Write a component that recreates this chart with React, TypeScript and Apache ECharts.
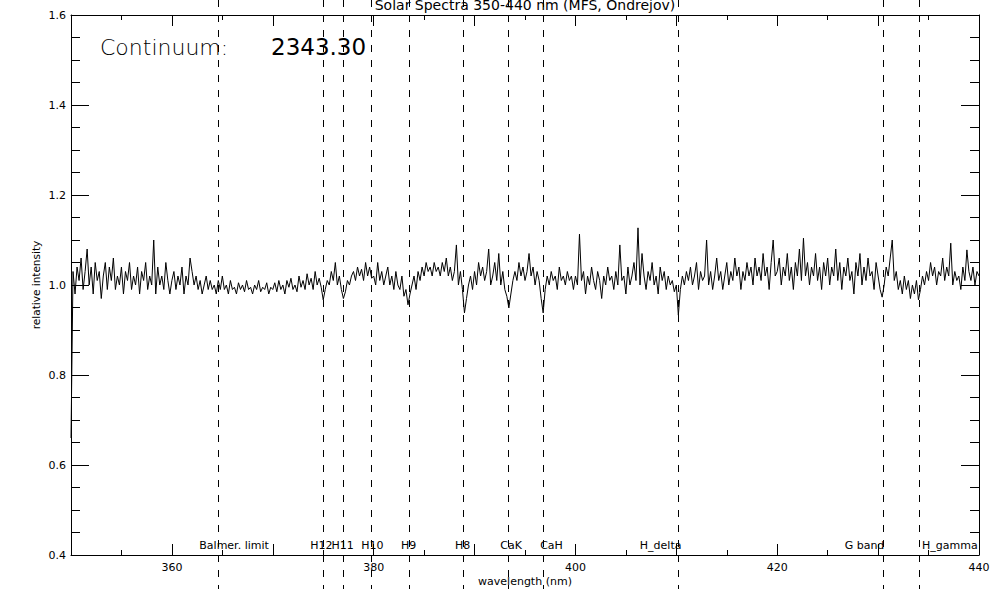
import React, { useEffect, useRef } from "react";
import * as echarts from "echarts";

// wavelength grid: 350.0 .. 440.0 nm, step 0.2 nm
const WL_START = 350;
const WL_STEP = 0.2;

// relative intensity, 10 nm per row-block
const spec350 = [
  0.66, 1.03, 0.98, 1.04, 1.01, 1.06, 0.99, 1.03, 1.08, 1.00,
  1.04, 0.98, 1.05, 1.01, 1.03, 0.97, 1.02, 1.05, 0.99, 1.04,
  1.01, 1.06, 0.99, 1.02, 1.00, 1.04, 0.98, 1.03, 1.01, 1.05,
  0.99, 1.02, 1.00, 1.04, 0.98, 1.03, 1.01, 1.05, 0.99, 1.02,
  1.00, 1.10, 0.98, 1.04, 1.00, 1.02, 0.99, 1.05, 1.01, 0.98,
];
const spec360 = [
  1.01, 1.03, 0.99, 1.02, 1.00, 1.04, 0.98, 1.02, 1.00, 1.06,
  1.03, 1.00, 1.02, 0.99, 1.01, 0.98, 1.00, 1.02, 0.99, 1.01,
  0.99, 1.00, 0.98, 1.01, 0.99, 1.02, 0.99, 1.00, 0.98, 1.01,
  0.99, 0.995, 0.98, 1.005, 0.99, 1.00, 0.985, 1.01, 0.99, 0.995,
  0.98, 1.00, 0.99, 1.01, 0.985, 0.995, 0.99, 1.005, 0.98, 0.995,
];
const spec370 = [
  0.99, 1.005, 0.985, 1.01, 0.99, 1.00, 0.98, 1.01, 0.995, 1.015,
  0.99, 1.00, 0.985, 1.02, 0.995, 1.01, 0.99, 1.025, 1.00, 1.015,
  0.99, 1.03, 1.00, 1.015, 0.995, 0.967, 0.99, 1.01, 1.00, 1.03,
  1.01, 1.05, 1.00, 1.02, 0.99, 0.97, 0.985, 1.01, 1.00, 1.02,
  1.03, 1.01, 1.04, 1.02, 1.035, 1.01, 1.05, 1.02, 1.04, 1.015,
];
const spec380 = [
  1.02, 1.00, 1.05, 1.01, 1.03, 1.00, 1.02, 1.04, 1.00, 1.02,
  0.99, 1.03, 1.00, 0.99, 1.02, 0.975, 0.99, 0.956, 0.98, 1.00,
  1.02, 0.99, 1.03, 1.01, 1.04, 1.02, 1.05, 1.03, 1.04, 1.02,
  1.05, 1.03, 1.04, 1.02, 1.05, 1.03, 1.06, 1.02, 1.04, 1.01,
  1.03, 1.089, 1.00, 1.03, 0.99, 0.938, 0.97, 1.00, 1.02, 0.99,
];
const spec390 = [
  1.03, 1.00, 1.05, 1.02, 1.04, 1.01, 1.03, 1.08, 1.00, 1.02,
  1.05, 1.01, 1.07, 1.00, 1.03, 0.99, 0.975, 0.949, 0.98, 1.01,
  1.03, 1.01, 1.05, 1.02, 1.04, 1.01, 1.03, 1.07, 1.02, 1.04,
  1.00, 1.03, 1.01, 0.97, 0.938, 0.99, 1.02, 1.00, 1.03, 1.01,
  1.02, 0.99, 1.04, 1.01, 1.02, 1.00, 1.03, 1.01, 1.02, 0.99,
];
const spec400 = [
  1.02, 1.00, 1.113, 1.01, 1.03, 0.98, 1.02, 1.00, 1.04, 1.01,
  0.99, 1.03, 1.01, 0.97, 1.02, 1.00, 1.04, 1.01, 1.02, 0.99,
  1.03, 1.00, 1.089, 1.01, 1.02, 0.98, 1.04, 1.00, 1.02, 1.05,
  1.01, 1.127, 1.00, 1.07, 1.02, 0.99, 1.03, 1.01, 1.05, 1.00,
  1.02, 0.98, 1.04, 1.01, 1.03, 0.99, 1.02, 1.00, 1.01, 0.985,
];
const spec410 = [
  1.00, 0.933, 0.99, 1.02, 1.00, 1.03, 1.01, 1.04, 1.00, 1.02,
  1.05, 0.99, 1.03, 1.01, 1.02, 1.10, 1.00, 1.03, 0.99, 1.02,
  1.06, 1.01, 1.03, 0.99, 1.02, 1.05, 1.00, 1.03, 1.01, 1.06,
  1.02, 1.04, 0.99, 1.03, 1.01, 1.05, 1.02, 1.04, 1.00, 1.06,
  1.02, 1.04, 1.01, 1.07, 1.02, 1.04, 0.99, 1.05, 1.10, 1.02,
];
const spec420 = [
  1.03, 1.06, 1.00, 1.04, 1.02, 1.07, 1.01, 1.04, 0.99, 1.05,
  1.02, 1.08, 1.01, 1.104, 1.02, 1.05, 1.00, 1.04, 1.02, 1.07,
  1.01, 1.04, 0.99, 1.05, 1.02, 1.06, 1.00, 1.04, 1.02, 1.08,
  1.01, 1.05, 0.99, 1.04, 1.02, 1.06, 1.01, 1.03, 0.98, 1.05,
  1.02, 1.07, 1.00, 1.04, 1.01, 1.06, 1.02, 1.03, 0.99, 1.05,
];
const spec430 = [
  1.02, 0.99, 0.973, 1.00, 1.04, 1.02, 1.06, 1.10, 1.01, 1.03,
  0.99, 1.01, 0.98, 1.02, 0.99, 1.01, 0.97, 1.00, 0.98, 1.01,
  0.967, 0.99, 1.02, 1.00, 1.03, 1.01, 1.05, 1.02, 1.04, 1.00,
  1.03, 1.02, 1.06, 1.01, 1.04, 1.02, 1.093, 1.00, 1.03, 1.01,
  1.02, 0.99, 1.04, 1.01, 1.078, 1.03, 1.01, 1.04, 1.00, 1.03, 1.02,
];

// spectral lines (nm) and their names
const lineWavelengths = [364.6, 375.0, 377.0, 379.75, 383.5, 388.85, 393.35, 396.8, 410.15, 430.45, 434.05];
const lineNames = ["Balmer. limit", "H12", "H11", "H10", "H9", "H8", "CaK", "CaH", "H_delta", "G band", "H_gamma"];

// x tick labels shown
const xTickLabels = [360, 380, 400, 420, 440];

const titleText = "Solar Spectra 350-440 nm (MFS, Ondrejov)";
const continuumLabel = "Continuum:";
const continuumValue = "2343.30";
const xTitle = "wavelength (nm)";
const yTitle = "relative intensity";

const FONT = "DejaVu Sans";
// horizontal offsets (px) of the line labels from their dashed line
const LABEL_DX = [-19, -13, -12, -10, -8, -8, -8, -3, -38, -38, 3];

export default function App() {
  const ref = useRef<HTMLDivElement>(null);

  useEffect(() => {
    if (!ref.current) return;
    const chart = echarts.init(ref.current, null, { renderer: "svg" });
    const values = [
      ...spec350, ...spec360, ...spec370, ...spec380, ...spec390,
      ...spec400, ...spec410, ...spec420, ...spec430,
    ];
    const data = values.map((v, i) => [WL_START + i * WL_STEP, v]);

    const axisCommon = {
      axisLine: { show: true, onZero: false, lineStyle: { color: "#000", width: 1 } },
      splitLine: { show: false },
    };

    chart.setOption({
      animation: false,
      backgroundColor: "#fff",
      grid: { left: 71, right: 17, top: 15, bottom: 34, containLabel: false },
      xAxis: [
        {
          type: "value", position: "bottom", min: 350, max: 440, interval: 10,
          ...axisCommon,
          axisTick: { show: true, inside: true, length: 11, lineStyle: { color: "#000" } },
          minorTick: { show: true, splitNumber: 2, length: 5, lineStyle: { color: "#000" } },
          axisLabel: {
            margin: 7, color: "#000", fontFamily: FONT, fontSize: 11,
            formatter: (v: number) => (xTickLabels.includes(Math.round(v)) ? String(Math.round(v)) : ""),
          },
        },
        {
          type: "value", position: "top", min: 350, max: 440, interval: 10,
          ...axisCommon,
          axisTick: { show: true, inside: true, length: 11, lineStyle: { color: "#000" } },
          minorTick: { show: true, splitNumber: 2, length: 5, lineStyle: { color: "#000" } },
          axisLabel: { show: false },
        },
      ],
      yAxis: [
        {
          type: "value", position: "left", min: 0.4, max: 1.6, interval: 0.2,
          ...axisCommon,
          axisTick: { show: true, inside: true, length: 18, lineStyle: { color: "#000" } },
          minorTick: { show: true, splitNumber: 4, length: 9, lineStyle: { color: "#000" } },
          axisLabel: { margin: 5, color: "#000", fontFamily: FONT, fontSize: 11, formatter: (v: number) => v.toFixed(1) },
        },
        {
          type: "value", position: "right", min: 0.4, max: 1.6, interval: 0.2,
          ...axisCommon,
          axisTick: { show: true, inside: true, length: 18, lineStyle: { color: "#000" } },
          minorTick: { show: true, splitNumber: 4, length: 9, lineStyle: { color: "#000" } },
          axisLabel: { show: false },
        },
      ],
      series: [
        {
          type: "line",
          data,
          xAxisIndex: 0,
          yAxisIndex: 0,
          symbol: "none",
          lineStyle: { color: "#000", width: 1 },
          clip: true,
        },
      ],
    });

    const gfx: any[] = [];
    lineWavelengths.forEach((w, i) => {
      const px = chart.convertToPixel({ xAxisIndex: 0 }, w) as number;
      const x = Math.round(px) + 0.5;
      gfx.push({
        type: "line",
        silent: true,
        shape: { x1: x, y1: 0, x2: x, y2: 589 },
        style: { stroke: "#000", lineWidth: 1, lineDash: [7, 8] },
        z: 10,
      });
      gfx.push({
        type: "text",
        silent: true,
        x: px + LABEL_DX[i],
        y: 551,
        style: {
          text: lineNames[i],
          fill: "#000",
          font: `11px "${FONT}"`,
          textAlign: "left",
          textVerticalAlign: "bottom",
        },
        z: 11,
      });
    });

    const pxMid = chart.convertToPixel({ xAxisIndex: 0 }, 395) as number;
    gfx.push({
      type: "text", silent: true, x: pxMid, y: 12,
      style: { text: titleText, fill: "#000", font: `14px "${FONT}"`, textAlign: "center", textVerticalAlign: "bottom" },
    });
    gfx.push({
      type: "text", silent: true, x: 100, y: 58,
      style: { text: continuumLabel, fill: "#000", font: `200 22px "${FONT}"`, textAlign: "left", textVerticalAlign: "bottom" },
    });
    gfx.push({
      type: "text", silent: true, x: 271, y: 58,
      style: { text: continuumValue, fill: "#000", font: `23px "${FONT}"`, textAlign: "left", textVerticalAlign: "bottom" },
    });
    gfx.push({
      type: "text", silent: true, x: pxMid, y: 587,
      style: { text: xTitle, fill: "#000", font: `11px "${FONT}"`, textAlign: "center", textVerticalAlign: "bottom" },
    });
    gfx.push({
      type: "text", silent: true, x: 36, y: 285, rotation: Math.PI / 2,
      style: { text: yTitle, fill: "#000", font: `10.5px "${FONT}"`, textAlign: "center", textVerticalAlign: "middle" },
    });

    chart.setOption({ graphic: gfx });

    return () => chart.dispose();
  }, []);

  return (
    <div
      ref={ref}
      style={{ position: "absolute", left: 0, top: 0, width: 996, height: 589, background: "#fff" }}
    />
  );
}
